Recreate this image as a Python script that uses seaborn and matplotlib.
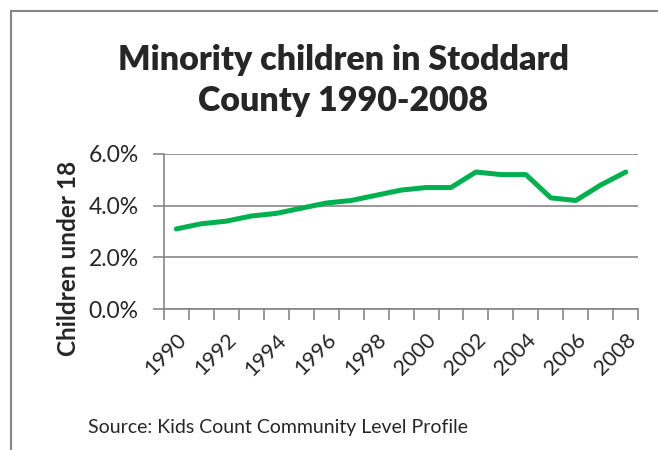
import matplotlib
matplotlib.use("Agg")
import matplotlib.pyplot as plt
import matplotlib.patches as mpatches
import matplotlib.ticker as mticker
import numpy as np
import pandas as pd
import seaborn as sns

# Data (share of children under 18, %)
years = list(range(1990, 2009))
share = [3.1, 3.3, 3.4, 3.6, 3.7, 3.9, 4.1, 4.2, 4.4, 4.6,
         4.7, 4.7, 5.3, 5.2, 5.2, 4.3, 4.2, 4.8, 5.3]
label_years = [1990, 1992, 1994, 1996, 1998, 2000, 2002, 2004, 2006, 2008]

df = pd.DataFrame({"year": years, "share": share})

sns.set_theme(style="white")
plt.rcParams["font.family"] = ["Lato", "DejaVu Sans"]

grey = "#868686"
fig = plt.figure(figsize=(6.58, 4.5), dpi=100)
ax = fig.add_axes([0.249, 0.313, 0.721, 0.345])

sns.lineplot(data=df, x="year", y="share", ax=ax, color="#00B050",
             linewidth=3.6, solid_joinstyle="round", solid_capstyle="round")

ax.set_xlim(1989.5, 2008.5)
ax.set_ylim(0, 6)
ax.yaxis.set_major_locator(mticker.FixedLocator([0, 2, 4, 6]))
ax.yaxis.set_major_formatter(mticker.FuncFormatter(lambda v, p: f"{v:.1f}%"))
ax.grid(axis="y", color=grey, linewidth=1.2)
ax.set_axisbelow(True)

# category boundaries as major ticks, labels on minor ticks
ax.xaxis.set_major_locator(mticker.FixedLocator(np.arange(1989.5, 2009, 1)))
ax.xaxis.set_major_formatter(mticker.NullFormatter())
ax.xaxis.set_minor_locator(mticker.FixedLocator(label_years))
ax.xaxis.set_minor_formatter(mticker.FixedFormatter([str(y) for y in label_years]))
ax.tick_params(axis="x", which="major", length=8, width=1.2, color=grey,
               direction="out", bottom=True)
ax.tick_params(axis="x", which="minor", length=0, labelsize=15.5, pad=15)
ax.tick_params(axis="y", length=8, width=1.2, color=grey, direction="out",
               left=True, labelsize=16.5, pad=10)
for lab in ax.get_xticklabels(minor=True):
    lab.set_rotation(45)
    lab.set_ha("right")
    lab.set_rotation_mode("anchor")

for side in ["top", "right"]:
    ax.spines[side].set_visible(False)
for side in ["left", "bottom"]:
    ax.spines[side].set_color(grey)
    ax.spines[side].set_linewidth(1.2)

ax.set_xlabel("")
ax.set_ylabel("Children under 18", fontsize=17.5, fontweight="bold")
ax.yaxis.set_label_coords(-0.177, 0.326)

fig.text(0.522, 0.822, "Minority children in Stoddard\nCounty 1990-2008",
         ha="center", va="center", fontsize=24.5, fontweight="heavy",
         linespacing=1.35)
fig.text(88 / 658, 1 - 427 / 450, "Source: Kids Count Community Level Profile",
         ha="left", va="center", fontsize=14)

# chart frame, cut at right and bottom like the reference
fig.patches.append(mpatches.Rectangle((11 / 658, -0.1), 1.2, 1 - 11 / 450 + 0.1,
                                      transform=fig.transFigure, fill=False,
                                      edgecolor=grey, linewidth=1.5))

fig.savefig("out.png", dpi=100)
